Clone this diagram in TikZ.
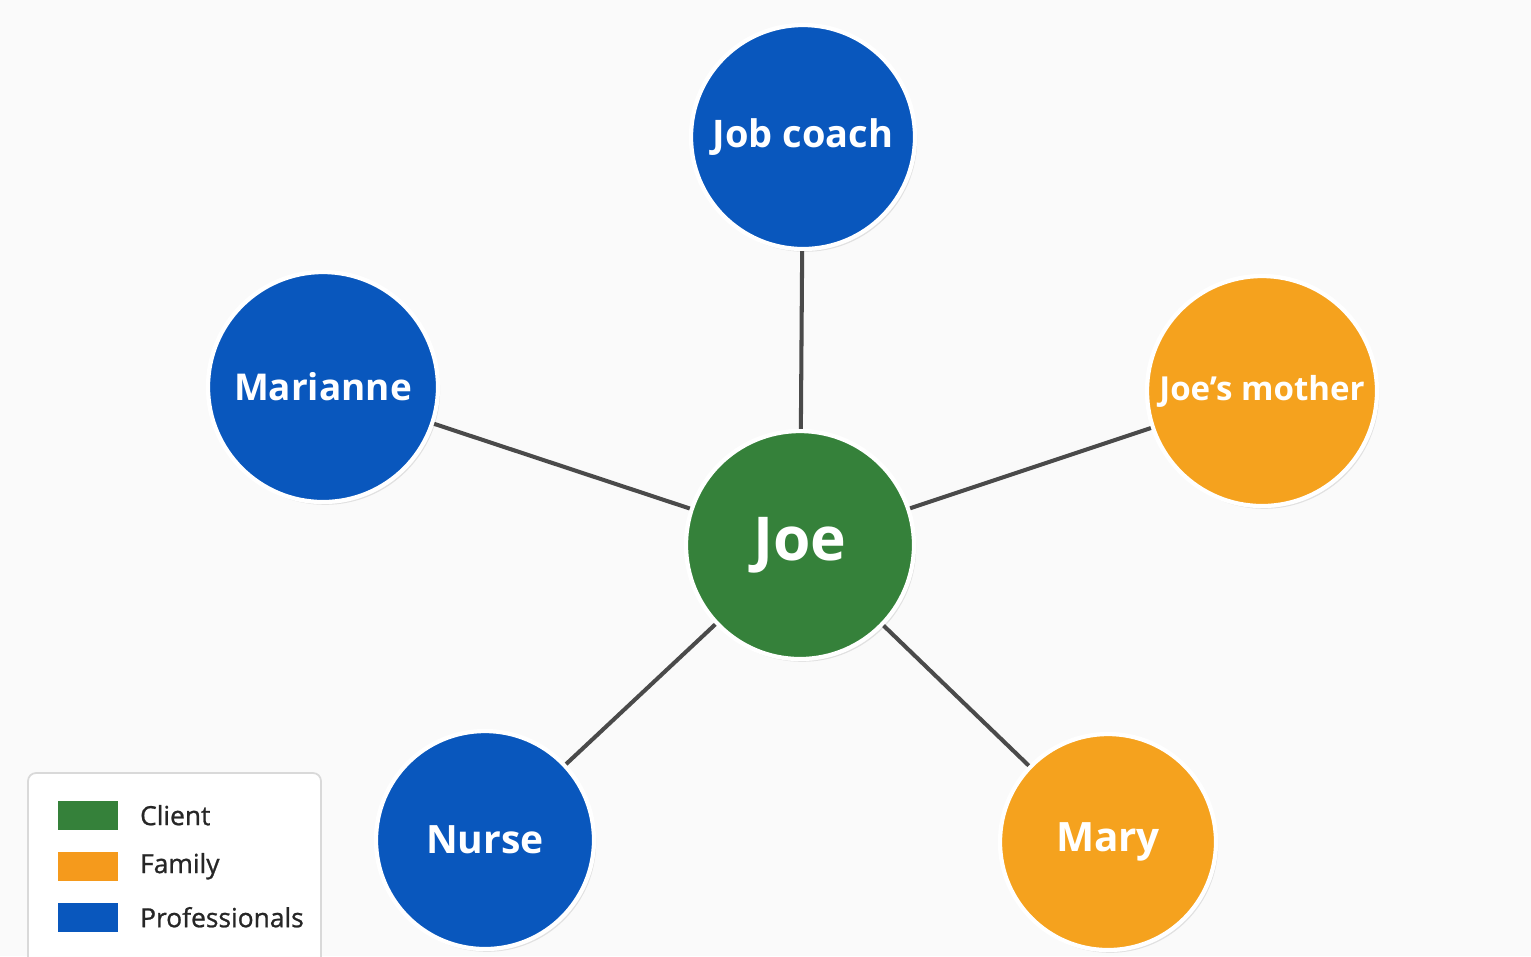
\documentclass[tikz,border=0pt]{standalone}
\usepackage{fontspec}
\setmainfont{Open Sans}
\usetikzlibrary{shadows}
\definecolor{problue}{HTML}{0957BD}
\definecolor{clientgreen}{HTML}{35813A}
\definecolor{familyorange}{HTML}{F5A21E}
\definecolor{linkgray}{HTML}{4A4A4A}
\tikzset{
  person/.style={circle, draw=white, line width=1.2pt, text=white,
    font=\bfseries, inner sep=0pt,
    drop shadow={shadow xshift=0.6pt, shadow yshift=-0.8pt, opacity=0.2}},
  link/.style={draw=linkgray, line width=1.15pt},
  swatch/.style={minimum width=60*0.01cm, minimum height=29*0.01cm, inner sep=0pt},
  keytext/.style={anchor=west, inner sep=0pt, xshift=0.21cm, text=black!85,
    font=\fontsize{7.5}{9}\selectfont\addfontfeature{FakeBold=0.9}}
}
\begin{document}
\begin{tikzpicture}[x=0.01cm, y=-0.01cm]
  \fill[white!98!black] (0,0) rectangle (1531,956);
  \useasboundingbox (0,0) rectangle (1531,956);
  \draw
    (800,545) node[person, fill=clientgreen, minimum size=228*0.01cm, font=\bfseries\fontsize{17.2}{20}\selectfont] (joe){Joe}
    (803,137) node[person, fill=problue, minimum size=224*0.01cm, font=\bfseries\fontsize{10.8}{13}\selectfont] (coach){Job coach}
    (323,387) node[person, fill=problue, minimum size=230*0.01cm, font=\bfseries\fontsize{10.5}{13}\selectfont] (marianne){Marianne}
    (1262,391) node[person, fill=familyorange, minimum size=230*0.01cm, font=\bfseries\fontsize{9.4}{12}\selectfont] (mother){Joe’s mother}
    (485,840) node[person, fill=problue, minimum size=218*0.01cm, font=\bfseries\fontsize{11.1}{14}\selectfont] (nurse){Nurse}
    (1108,842) node[person, fill=familyorange, minimum size=216*0.01cm, font=\bfseries\fontsize{11.5}{14}\selectfont] (mary){Mary};
  \begin{scope}[on background layer/.try]
    \path[link] (joe) to (coach);
    \path[link] (joe) to (marianne);
    \path[link] (joe) to (mother);
    \path[link] (joe) to (nurse);
    \path[link] (joe) to (mary);
  \end{scope}
  % legend
  \draw[rounded corners=8*0.01cm, draw=black!15, fill=white, line width=0.5pt]
    (28,773) rectangle (321,975);
  \node[swatch, fill=clientgreen, anchor=north west] (sclient) at (57,800) {};
  \node[swatch, fill=familyorange!95!red, anchor=north west] (sfamily) at (57,851) {};
  \node[swatch, fill=problue, anchor=north west] (spro) at (57,902) {};
  \node[keytext] (lclient) at (sclient.east) {Client};
  \node[keytext] (lfamily) at (sfamily.east) {Family};
  \node[keytext] (lpro) at (spro.east) {Professionals};
\end{tikzpicture}
\end{document}
